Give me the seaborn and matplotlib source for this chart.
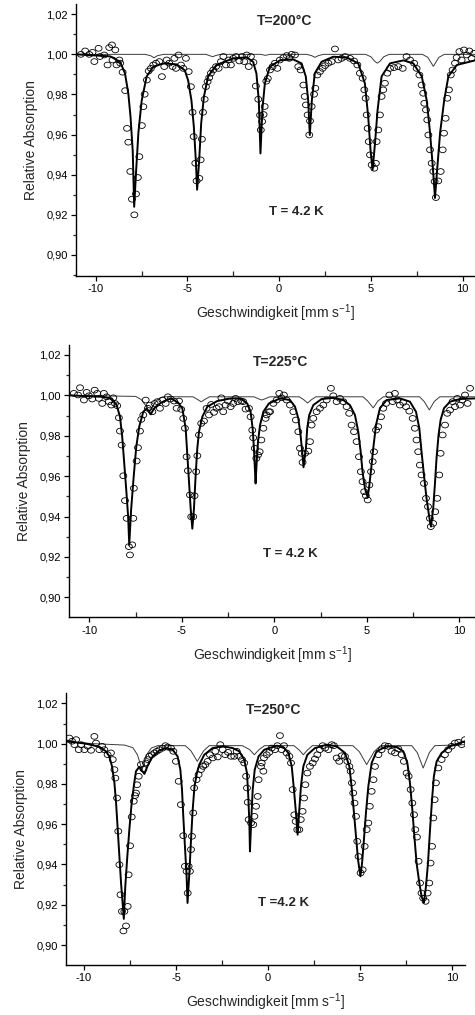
import numpy as np
import pandas as pd
import matplotlib
matplotlib.use("Agg")
import matplotlib.pyplot as plt
from matplotlib.ticker import FixedLocator, FuncFormatter
from matplotlib.markers import MarkerStyle
from matplotlib.transforms import Affine2D
import seaborn as sns

# ---------------- data: panel 1 (T=200°C) ----------------
p1_vel = [-10.80, -10.57, -10.35, -10.17, -10.07, -9.84, -9.77, -9.53, -9.35, -9.26, -9.11, -9.08, -8.93, -8.86,
          -8.71, -8.66, -8.53, -8.39, -8.29, -8.22, -8.11, -8.02, -7.89, -7.80, -7.70, -7.62, -7.48, -7.40, -7.33,
          -7.21, -7.11, -6.99, -6.86, -6.71, -6.53, -6.39, -6.26, -6.13, -5.99, -5.81, -5.71, -5.62, -5.48, -5.35,
          -5.22, -5.08, -4.93, -4.81, -4.72, -4.66, -4.57, -4.50, -4.35, -4.28, -4.21, -4.15, -4.06, -3.99, -3.90,
          -3.81, -3.72, -3.59, -3.44, -3.30, -3.17, -3.04, -2.90, -2.75, -2.63, -2.50, -2.35, -2.17, -2.03, -1.90,
          -1.77, -1.66, -1.54, -1.40, -1.27, -1.14, -1.04, -1.00, -0.93, -0.85, -0.79, -0.70, -0.62, -0.50, -0.36,
          -0.23, -0.10, 0.04, 0.23, 0.41, 0.55, 0.68, 0.86, 1.04, 1.17, 1.32, 1.39, 1.46, 1.55, 1.64, 1.68, 1.77,
          1.90, 1.97, 2.08, 2.22, 2.37, 2.50, 2.68, 2.86, 3.04, 3.22, 3.40, 3.59, 3.86, 4.08, 4.26, 4.40, 4.55,
          4.64, 4.71, 4.77, 4.82, 4.88, 4.95, 5.04, 5.18, 5.27, 5.31, 5.40, 5.49, 5.58, 5.67, 5.76, 5.89, 6.04,
          6.26, 6.49, 6.73, 6.94, 7.13, 7.35, 7.49, 7.64, 7.76, 7.85, 7.91, 8.00, 8.07, 8.13, 8.22, 8.31, 8.40,
          8.47, 8.54, 8.67, 8.80, 8.91, 8.98, 9.07, 9.16, 9.25, 9.35, 9.45, 9.58, 9.67, 9.82, 9.94, 10.07, 10.22,
          10.36, 10.49, 10.62]
p1_abs = [1.0000, 1.0017, 1.0000, 1.0010, 0.9964, 1.0030, 0.9989, 0.9997, 0.9947, 1.0034, 1.0047, 0.9972, 1.0022,
          0.9947, 0.9972, 0.9956, 0.9911, 0.9819, 0.9631, 0.9562, 0.9416, 0.9278, 0.9200, 0.9304, 0.9386, 0.9490,
          0.9645, 0.9739, 0.9801, 0.9872, 0.9917, 0.9930, 0.9947, 0.9956, 0.9964, 0.9889, 0.9939, 0.9972, 0.9956,
          0.9939, 0.9980, 0.9930, 0.9997, 0.9947, 0.9930, 0.9980, 0.9914, 0.9839, 0.9711, 0.9590, 0.9457, 0.9369,
          0.9382, 0.9474, 0.9577, 0.9711, 0.9776, 0.9839, 0.9864, 0.9884, 0.9906, 0.9922, 0.9939, 0.9930, 0.9964,
          0.9989, 0.9947, 0.9972, 0.9947, 0.9980, 0.9989, 0.9967, 0.9989, 0.9964, 0.9997, 0.9939, 0.9989, 0.9960,
          0.9842, 0.9776, 0.9697, 0.9623, 0.9665, 0.9700, 0.9740, 0.9866, 0.9880, 0.9922, 0.9939, 0.9956, 0.9930,
          0.9972, 0.9984, 0.9994, 0.9980, 1.0000, 0.9997, 0.9939, 0.9922, 0.9847, 0.9790, 0.9748, 0.9698, 0.9598,
          0.9668, 0.9740, 0.9801, 0.9831, 0.9897, 0.9914, 0.9930, 0.9944, 0.9956, 0.9964, 1.0027, 0.9972, 0.9980,
          0.9989, 0.9980, 0.9967, 0.9947, 0.9906, 0.9881, 0.9823, 0.9781, 0.9698, 0.9631, 0.9565, 0.9499, 0.9449,
          0.9432, 0.9457, 0.9565, 0.9623, 0.9698, 0.9790, 0.9823, 0.9856, 0.9906, 0.9930, 0.9934, 0.9939, 0.9930,
          0.9989, 0.9972, 0.9956, 0.9930, 0.9897, 0.9847, 0.9806, 0.9756, 0.9723, 0.9673, 0.9598, 0.9524, 0.9457,
          0.9416, 0.9366, 0.9286, 0.9369, 0.9416, 0.9524, 0.9607, 0.9681, 0.9781, 0.9823, 0.9897, 0.9922, 0.9956,
          0.9984, 1.0014, 0.9972, 1.0022, 0.9997, 1.0017, 0.9980, 1.0005]
p1_fit_vel = [-11.07, -9.2, -8.67, -8.4, -8.22, -8.1, -7.98, -7.9, -7.8, -7.67, -7.49, -7.22, -6.86, -6.31, -5.58,
              -5.14, -4.96, -4.78, -4.65, -4.54, -4.47, -4.36, -4.25, -4.10, -3.87, -3.42, -2.51, -1.78, -1.42,
              -1.24, -1.11, -1.02, -0.91, -0.78, -0.51, 0.04, 0.76, 1.22, 1.45, 1.58, 1.67, 1.78, 1.94, 2.31, 2.94,
              3.67, 4.31, 4.67, 4.85, 4.98, 5.09, 5.22, 5.36, 5.58, 6.04, 6.77, 7.31, 7.77, 8.04, 8.22, 8.37, 8.49,
              8.62, 8.77, 8.99, 9.22, 9.68, 10.67]
p1_fit_abs = [1.0000, 0.9990, 0.9963, 0.9905, 0.9805, 0.9690, 0.9520, 0.9240, 0.9410, 0.9610, 0.9770, 0.9890,
              0.9938, 0.9955, 0.9950, 0.9920, 0.9870, 0.9770, 0.9640, 0.9470, 0.9325, 0.9470, 0.9655, 0.9790,
              0.9890, 0.9947, 0.9980, 0.9985, 0.9963, 0.9905, 0.9770, 0.9506, 0.9730, 0.9855, 0.9938, 0.9970,
              0.9975, 0.9955, 0.9890, 0.9770, 0.9598, 0.9770, 0.9905, 0.9963, 0.9988, 0.9985, 0.9955, 0.9855,
              0.9690, 0.9520, 0.9424, 0.9555, 0.9720, 0.9890, 0.9955, 0.9970, 0.9955, 0.9890, 0.9770, 0.9610,
              0.9440, 0.9284, 0.9440, 0.9610, 0.9770, 0.9890, 0.9947, 0.9970]
p1_sub_vel = [-11.07, -7.3, -7.0, -6.82, -6.64, -6.3, -4.0, -3.8, -3.63, -3.46, -3.2, -1.0, -0.75, -0.5, 1.5, 1.78,
              1.95, 2.12, 2.4, 4.7, 5.0, 5.2, 5.35, 5.5, 5.7, 6.0, 7.8, 8.1, 8.28, 8.4, 8.52, 8.7, 9.0, 10.67]
p1_sub_abs = [1.0000, 1.0000, 0.9993, 0.9983, 0.9993, 1.0000, 1.0000, 0.9994, 0.9988, 0.9994, 1.0000, 1.0000,
              0.9995, 1.0000, 1.0000, 0.9993, 0.9985, 0.9993, 1.0000, 1.0000, 0.9988, 0.9966, 0.9956, 0.9966,
              0.9988, 1.0000, 1.0000, 0.9985, 0.9958, 0.9940, 0.9958, 0.9985, 1.0000, 1.0000]

# ---------------- data: panel 2 (T=225°C) ----------------
p2_vel = [-10.83, -10.61, -10.50, -10.29, -10.14, -10.02, -9.84, -9.71, -9.57, -9.48, -9.30, -9.21, -9.06, -8.94,
          -8.81, -8.70, -8.61, -8.49, -8.40, -8.34, -8.25, -8.16, -8.07, -7.98, -7.86, -7.80, -7.68, -7.62, -7.59,
          -7.44, -7.37, -7.26, -7.19, -7.08, -6.95, -6.83, -6.72, -6.59, -6.47, -6.32, -6.18, -6.05, -5.87, -5.75,
          -5.60, -5.42, -5.28, -5.15, -5.03, -4.92, -4.83, -4.74, -4.67, -4.56, -4.49, -4.38, -4.31, -4.22, -4.16,
          -4.07, -3.95, -3.80, -3.66, -3.53, -3.41, -3.26, -3.12, -2.99, -2.86, -2.76, -2.63, -2.50, -2.36, -2.22,
          -2.09, -1.96, -1.78, -1.68, -1.55, -1.37, -1.28, -1.19, -1.14, -1.05, -0.97, -0.88, -0.79, -0.70, -0.59,
          -0.47, -0.41, -0.29, -0.23, -0.05, 0.13, 0.27, 0.40, 0.52, 0.67, 0.85, 1.03, 1.17, 1.30, 1.39, 1.48,
          1.53, 1.66, 1.84, 1.93, 2.02, 2.11, 2.29, 2.47, 2.65, 2.83, 3.06, 3.19, 3.37, 3.55, 3.73, 3.91, 4.05,
          4.18, 4.31, 4.45, 4.58, 4.68, 4.77, 4.86, 4.95, 5.05, 5.14, 5.23, 5.32, 5.39, 5.50, 5.62, 5.77, 5.89,
          6.04, 6.22, 6.40, 6.52, 6.65, 6.79, 6.97, 7.12, 7.30, 7.48, 7.60, 7.69, 7.78, 7.87, 7.96, 8.09, 8.20,
          8.31, 8.41, 8.46, 8.59, 8.70, 8.81, 8.92, 8.99, 9.10, 9.23, 9.35, 9.50, 9.64, 9.77, 9.89, 10.04, 10.16,
          10.31, 10.45, 10.58]
p2_abs = [1.0010, 1.0002, 1.0038, 0.9977, 1.0015, 0.9998, 0.9982, 1.0026, 1.0010, 0.9985, 0.9960, 1.0010, 0.9993,
          0.9969, 0.9952, 0.9988, 0.9960, 0.9949, 0.9889, 0.9823, 0.9754, 0.9602, 0.9479, 0.9391, 0.9251, 0.9210,
          0.9260, 0.9391, 0.9540, 0.9675, 0.9741, 0.9823, 0.9881, 0.9903, 0.9977, 0.9936, 0.9952, 0.9919, 0.9960,
          0.9969, 0.9936, 0.9977, 0.9960, 0.9993, 0.9982, 0.9972, 0.9936, 0.9972, 0.9931, 0.9886, 0.9837, 0.9696,
          0.9627, 0.9507, 0.9399, 0.9399, 0.9503, 0.9622, 0.9701, 0.9804, 0.9861, 0.9873, 0.9936, 0.9903, 0.9955,
          0.9916, 0.9936, 0.9944, 0.9988, 0.9919, 0.9952, 0.9972, 0.9944, 0.9960, 0.9985, 0.9969, 0.9972, 0.9969,
          0.9932, 0.9936, 0.9894, 0.9828, 0.9790, 0.9738, 0.9688, 0.9705, 0.9721, 0.9779, 0.9837, 0.9886, 0.9903,
          0.9919, 0.9919, 0.9960, 0.9977, 1.0010, 0.9988, 1.0002, 0.9977, 0.9952, 0.9919, 0.9878, 0.9820, 0.9738,
          0.9713, 0.9668, 0.9713, 0.9724, 0.9771, 0.9853, 0.9886, 0.9919, 0.9936, 0.9952, 0.9977, 1.0035, 0.9998,
          0.9969, 0.9985, 0.9969, 0.9944, 0.9911, 0.9853, 0.9820, 0.9771, 0.9696, 0.9622, 0.9573, 0.9523, 0.9503,
          0.9482, 0.9556, 0.9622, 0.9672, 0.9721, 0.9828, 0.9845, 0.9894, 0.9936, 0.9960, 1.0002, 0.9969, 1.0010,
          0.9977, 0.9952, 0.9965, 0.9944, 0.9922, 0.9886, 0.9837, 0.9779, 0.9721, 0.9655, 0.9606, 0.9564, 0.9490,
          0.9449, 0.9391, 0.9350, 0.9366, 0.9424, 0.9490, 0.9606, 0.9713, 0.9804, 0.9853, 0.9911, 0.9927, 0.9969,
          0.9944, 0.9985, 0.9952, 0.9977, 1.0002, 0.9960, 1.0035]
p2_fit_vel = [-11.08, -9.33, -8.79, -8.52, -8.34, -8.22, -8.11, -8.00, -7.90, -7.84, -7.74, -7.60, -7.46, -7.30,
              -7.08, -6.90, -6.68, -6.50, -6.1, -5.6, -5.2, -4.97, -4.79, -4.70, -4.61, -4.52, -4.43, -4.34, -4.25,
              -4.16, -4.07, -3.89, -3.62, -3.08, -2.36, -1.82, -1.46, -1.28, -1.17, -1.10, -1.05, -1.01, -0.95,
              -0.88, -0.77, -0.59, -0.29, 0.31, 0.85, 1.12, 1.30, 1.42, 1.51, 1.58, 1.71, 1.78, 1.89, 2.11, 2.56,
              3.19, 3.73, 4.09, 4.36, 4.54, 4.67, 4.77, 4.90, 5.05, 5.14, 5.24, 5.35, 5.50, 5.71, 6.07, 6.79, 7.33,
              7.66, 7.84, 7.96, 8.09, 8.23, 8.36, 8.47, 8.59, 8.68, 8.77, 8.88, 8.99, 9.17, 9.50, 10.04, 10.85]
p2_fit_abs = [1.0000, 0.9993, 0.9985, 0.9952, 0.9894, 0.9795, 0.9663, 0.9530, 0.9400, 0.9260, 0.9432, 0.9597,
              0.9746, 0.9845, 0.9919, 0.9935, 0.9906, 0.9935, 0.9965, 0.9985, 0.9965, 0.9936, 0.9837, 0.9705,
              0.9573, 0.9440, 0.9340, 0.9440, 0.9606, 0.9738, 0.9820, 0.9894, 0.9944, 0.9972, 0.9985, 0.9985,
              0.9960, 0.9919, 0.9837, 0.9738, 0.9639, 0.9564, 0.9672, 0.9771, 0.9853, 0.9919, 0.9960, 0.9985,
              0.9977, 0.9944, 0.9886, 0.9804, 0.9721, 0.9644, 0.9738, 0.9837, 0.9903, 0.9952, 0.9982, 0.9988,
              0.9977, 0.9952, 0.9903, 0.9820, 0.9721, 0.9622, 0.9540, 0.9495, 0.9556, 0.9639, 0.9738, 0.9854,
              0.9936, 0.9977, 0.9985, 0.9969, 0.9919, 0.9837, 0.9721, 0.9606, 0.9490, 0.9408, 0.9350, 0.9440,
              0.9556, 0.9688, 0.9804, 0.9878, 0.9936, 0.9969, 0.9982, 0.9985]
p2_sub_vel = [-11.08, -7.5, -7.2, -6.95, -6.75, -6.55, -6.3, -6.0, -4.4, -4.15, -3.95, -3.75, -3.5, -1.1, -0.85,
              -0.68, -0.5, -0.25, 1.35, 1.6, 1.8, 2.0, 2.25, 4.8, 5.05, 5.35, 5.6, 5.9, 7.85, 8.1, 8.38, 8.65, 8.95,
              10.85]
p2_sub_abs = [1.0000, 0.9995, 0.9980, 0.9950, 0.9915, 0.9950, 0.9980, 0.9993, 0.9993, 0.9980, 0.9968, 0.9980,
              0.9993, 0.9993, 0.9983, 0.9977, 0.9983, 0.9993, 0.9993, 0.9978, 0.9962, 0.9978, 0.9993, 0.9993,
              0.9972, 0.9938, 0.9972, 0.9993, 0.9993, 0.9970, 0.9928, 0.9970, 0.9993, 0.9993]

# ---------------- data: panel 3 (T=250°C) ----------------
p3_vel = [-10.80, -10.65, -10.52, -10.43, -10.29, -10.16, -9.98, -9.80, -9.62, -9.44, -9.35, -9.17, -9.02, -8.90,
          -8.72, -8.54, -8.44, -8.35, -8.30, -8.21, -8.14, -8.08, -8.02, -7.94, -7.86, -7.81, -7.72, -7.63, -7.58,
          -7.50, -7.41, -7.30, -7.23, -7.18, -7.12, -7.03, -6.91, -6.78, -6.64, -6.55, -6.46, -6.31, -6.18, -6.05,
          -5.91, -5.73, -5.58, -5.46, -5.28, -5.15, -5.01, -4.86, -4.74, -4.61, -4.52, -4.43, -4.37, -4.32, -4.25,
          -4.19, -4.14, -4.07, -4.02, -3.89, -3.78, -3.65, -3.53, -3.41, -3.29, -3.16, -3.01, -2.87, -2.74, -2.60,
          -2.47, -2.33, -2.18, -2.02, -1.84, -1.71, -1.57, -1.42, -1.30, -1.20, -1.15, -1.11, -1.06, -0.93, -0.81,
          -0.75, -0.66, -0.57, -0.52, -0.39, -0.35, -0.26, -0.23, -0.08, 0.06, 0.19, 0.37, 0.50, 0.64, 0.73, 0.86,
          1.00, 1.15, 1.24, 1.33, 1.42, 1.49, 1.58, 1.69, 1.77, 1.87, 1.95, 2.02, 2.13, 2.27, 2.42, 2.54, 2.67,
          2.81, 2.96, 3.09, 3.27, 3.45, 3.57, 3.72, 3.86, 3.99, 4.17, 4.30, 4.41, 4.48, 4.55, 4.62, 4.69, 4.77,
          4.84, 4.91, 5.02, 5.13, 5.24, 5.35, 5.44, 5.52, 5.62, 5.72, 5.80, 5.99, 6.16, 6.34, 6.52, 6.70, 6.89,
          7.07, 7.25, 7.37, 7.52, 7.63, 7.74, 7.83, 7.92, 7.99, 8.08, 8.17, 8.25, 8.33, 8.42, 8.55, 8.66, 8.75,
          8.82, 8.90, 8.97, 9.04, 9.11, 9.24, 9.42, 9.60, 9.78, 9.96, 10.14, 10.33, 10.51, 10.69]
p3_abs = [1.0028, 1.0012, 0.9995, 1.0020, 0.9970, 0.9995, 0.9970, 0.9987, 0.9967, 1.0036, 1.0003, 0.9970, 0.9987,
          0.9970, 0.9945, 0.9954, 0.9921, 0.9871, 0.9829, 0.9730, 0.9565, 0.9399, 0.9250, 0.9167, 0.9070, 0.9167,
          0.9095, 0.9192, 0.9349, 0.9493, 0.9636, 0.9714, 0.9742, 0.9755, 0.9796, 0.9838, 0.9896, 0.9874, 0.9904,
          0.9921, 0.9937, 0.9945, 0.9954, 0.9962, 0.9970, 0.9978, 0.9990, 0.9983, 0.9978, 0.9962, 0.9912, 0.9813,
          0.9697, 0.9543, 0.9391, 0.9366, 0.9258, 0.9391, 0.9366, 0.9474, 0.9540, 0.9656, 0.9780, 0.9821, 0.9846,
          0.9871, 0.9887, 0.9896, 0.9912, 0.9945, 0.9929, 0.9962, 0.9934, 0.9995, 0.9970, 0.9945, 0.9957, 0.9937,
          0.9937, 0.9962, 0.9937, 0.9921, 0.9904, 0.9838, 0.9780, 0.9709, 0.9623, 0.9606, 0.9598, 0.9639, 0.9689,
          0.9738, 0.9821, 0.9887, 0.9904, 0.9863, 0.9929, 0.9945, 0.9957, 0.9978, 0.9970, 0.9990, 1.0040, 0.9970,
          0.9990, 0.9954, 0.9937, 0.9904, 0.9772, 0.9647, 0.9614, 0.9573, 0.9573, 0.9623, 0.9664, 0.9730, 0.9796,
          0.9854, 0.9887, 0.9904, 0.9924, 0.9945, 0.9970, 0.9990, 0.9978, 0.9970, 0.9995, 0.9990, 0.9929, 0.9912,
          0.9940, 0.9937, 0.9912, 0.9887, 0.9863, 0.9805, 0.9755, 0.9705, 0.9639, 0.9515, 0.9440, 0.9358, 0.9374,
          0.9490, 0.9573, 0.9606, 0.9689, 0.9763, 0.9821, 0.9887, 0.9945, 0.9970, 0.9990, 0.9987, 0.9962, 0.9954,
          0.9974, 0.9945, 0.9912, 0.9854, 0.9838, 0.9772, 0.9705, 0.9647, 0.9573, 0.9536, 0.9416, 0.9308, 0.9258,
          0.9233, 0.9217, 0.9258, 0.9308, 0.9407, 0.9490, 0.9631, 0.9722, 0.9805, 0.9879, 0.9921, 0.9945, 0.9970,
          0.9987, 1.0003, 1.0007, 0.9995, 1.0020]
p3_fit_vel = [-10.98, -9.9, -9.2, -8.81, -8.63, -8.48, -8.35, -8.26, -8.17, -8.08, -7.99, -7.84, -7.76, -7.65,
              -7.54, -7.43, -7.30, -7.18, -7.00, -6.85, -6.72, -6.55, -6.27, -5.91, -5.55, -5.19, -4.92, -4.77,
              -4.68, -4.61, -4.52, -4.43, -4.38, -4.28, -4.19, -4.10, -4.00, -3.87, -3.74, -3.47, -3.02, -2.47,
              -1.93, -1.57, -1.30, -1.15, -1.08, -1.02, -0.99, -0.91, -0.84, -0.73, -0.52, -0.21, 0.46, 0.82, 1.10,
              1.28, 1.40, 1.51, 1.60, 1.69, 1.78, 1.91, 2.13, 2.54, 3.18, 3.72, 4.17, 4.41, 4.53, 4.66, 4.77, 4.88,
              5.01, 5.10, 5.20, 5.31, 5.44, 5.62, 5.89, 6.43, 6.98, 7.34, 7.56, 7.70, 7.83, 7.94, 8.06, 8.21, 8.33,
              8.46, 8.57, 8.68, 8.79, 8.90, 9.00, 9.15, 9.42, 9.87, 10.42, 10.69]
p3_fit_abs = [1.0012, 1.0000, 0.9985, 0.9962, 0.9937, 0.9887, 0.9805, 0.9705, 0.9573, 0.9440, 0.9308, 0.9130,
              0.9291, 0.9440, 0.9573, 0.9689, 0.9788, 0.9863, 0.9885, 0.9865, 0.9850, 0.9890, 0.9937, 0.9967,
              0.9978, 0.9970, 0.9937, 0.9871, 0.9772, 0.9639, 0.9490, 0.9341, 0.9209, 0.9358, 0.9523, 0.9672,
              0.9788, 0.9854, 0.9896, 0.9945, 0.9978, 0.9987, 0.9978, 0.9962, 0.9920, 0.9854, 0.9738, 0.9606,
              0.9465, 0.9639, 0.9772, 0.9871, 0.9937, 0.9970, 0.9990, 0.9983, 0.9954, 0.9887, 0.9772, 0.9656,
              0.9548, 0.9672, 0.9788, 0.9887, 0.9945, 0.9978, 0.9995, 0.9987, 0.9954, 0.9887, 0.9788, 0.9656,
              0.9540, 0.9424, 0.9341, 0.9407, 0.9523, 0.9656, 0.9788, 0.9904, 0.9962, 0.9987, 0.9983, 0.9962,
              0.9904, 0.9805, 0.9672, 0.9540, 0.9407, 0.9308, 0.9242, 0.9210, 0.9291, 0.9407, 0.9573, 0.9722,
              0.9838, 0.9912, 0.9954, 0.9987, 1.0003, 1.0012]
p3_sub_vel = [-10.98, -9.5, -7.8, -7.35, -7.1, -6.85, -6.6, -6.35, -6.0, -4.5, -4.2, -4.0, -3.85, -3.7, -3.5, -3.2,
              -1.4, -1.0, -0.75, -0.5, -0.2, 1.4, 1.7, 1.91, 2.12, 2.4, 4.6, 4.95, 5.35, 5.75, 6.1, 7.8, 8.1, 8.42,
              8.75, 9.05, 10.69]
p3_sub_abs = [1.0010, 1.0000, 0.9993, 0.9980, 0.9945, 0.9870, 0.9945, 0.9978, 0.9990, 0.9990, 0.9965, 0.9935,
              0.9912, 0.9935, 0.9965, 0.9990, 0.9990, 0.9970, 0.9945, 0.9970, 0.9990, 0.9990, 0.9967, 0.9945,
              0.9967, 0.9990, 0.9990, 0.9960, 0.9896, 0.9960, 0.9990, 0.9990, 0.9955, 0.9879, 0.9955, 0.9990,
              0.9995]

y_ticks = [0.90, 0.92, 0.94, 0.96, 0.98, 1.00, 1.02]
y_minor = [0.89, 0.91, 0.93, 0.95, 0.97, 0.99, 1.01]
x_ticks = [-10, -5, 0, 5, 10]
x_minor = [-7.5, -2.5, 2.5, 7.5]
x_tick_labels = ["-10", "-5", "0", "5", "10"]
sample_titles = ["T=200°C", "T=225°C", "T=250°C"]
meas_labels = ["T = 4.2 K", "T = 4.2 K", "T =4.2 K"]

sns.set_style("ticks")
plt.rcParams["font.family"] = ["Liberation Sans", "DejaVu Sans"]
plt.rcParams["mathtext.fontset"] = "custom"
plt.rcParams["mathtext.rm"] = "Liberation Sans"
plt.rcParams["mathtext.it"] = "Liberation Sans:italic"
plt.rcParams["mathtext.bf"] = "Liberation Sans:bold"

fig = plt.figure(figsize=(4.75, 10.15), dpi=100)

panels = [
    dict(rect=[76/475, 1-276/1015, (475-76)/475, 271.8/1015], xlim=(-11.07, 10.67), ylim=(0.8895, 1.025),
         data=(p1_vel, p1_abs), fit=(p1_fit_vel, p1_fit_abs), sub=(p1_sub_vel, p1_sub_abs),
         title_pos=(0.32, 1.0168), meas_pos=(0.91, 0.9212)),
    dict(rect=[69.3/475, 1-617.3/1015, (475-69.3)/475, 272.4/1015], xlim=(-11.08, 10.85), ylim=(0.8901, 1.025),
         data=(p2_vel, p2_abs), fit=(p2_fit_vel, p2_fit_abs), sub=(p2_sub_vel, p2_sub_abs),
         title_pos=(0.31, 1.0163), meas_pos=(0.85, 0.9215)),
    dict(rect=[66/475, 1-965/1015, (465-66)/475, 271.7/1015], xlim=(-10.98, 10.69), ylim=(0.8901, 1.025),
         data=(p3_vel, p3_abs), fit=(p3_fit_vel, p3_fit_abs), sub=(p3_sub_vel, p3_sub_abs),
         title_pos=(0.28, 1.0166), meas_pos=(0.82, 0.9209)),
]

marker = MarkerStyle("o", transform=Affine2D().scale(1.2, 1.0))
comma = FuncFormatter(lambda v, p: f"{v:.2f}".replace(".", ","))

for i, pnl in enumerate(panels):
    ax = fig.add_axes(pnl["rect"])
    df = pd.DataFrame({"v": pnl["data"][0], "a": pnl["data"][1]})
    fit = pd.DataFrame({"v": pnl["fit"][0], "a": pnl["fit"][1]})
    sub = pd.DataFrame({"v": pnl["sub"][0], "a": pnl["sub"][1]})
    sns.lineplot(data=sub, x="v", y="a", ax=ax, color="#3a3a3a", lw=0.7, estimator=None, sort=False, zorder=2)
    sns.scatterplot(data=df, x="v", y="a", ax=ax, marker=marker, s=17, facecolor="none",
                    edgecolor="black", linewidth=0.6, zorder=3)
    sns.lineplot(data=fit, x="v", y="a", ax=ax, color="black", lw=1.4, estimator=None, sort=False, zorder=4)
    ax.set_xlim(*pnl["xlim"])
    ax.set_ylim(*pnl["ylim"])
    ax.xaxis.set_major_locator(FixedLocator(x_ticks))
    ax.set_xticklabels(x_tick_labels)
    ax.xaxis.set_minor_locator(FixedLocator(x_minor))
    ax.yaxis.set_major_locator(FixedLocator(y_ticks))
    ax.yaxis.set_minor_locator(FixedLocator(y_minor))
    ax.yaxis.set_major_formatter(comma)
    for s in ["top", "right"]:
        ax.spines[s].set_visible(False)
    for s in ["left", "bottom"]:
        ax.spines[s].set_linewidth(1.0)
        ax.spines[s].set_color("black")
    ax.tick_params(axis="both", which="major", direction="out", length=3.5, width=0.9, labelsize=8,
                   colors="black", pad=2.5)
    ax.tick_params(axis="x", which="minor", direction="in", length=3.5, width=0.9)
    ax.tick_params(axis="y", which="minor", direction="out", length=2.2, width=0.9)
    ax.set_xlabel("Geschwindigkeit [mm s$^{-1}$]", fontsize=10, labelpad=6)
    ax.set_ylabel("Relative Absorption", fontsize=10, labelpad=6)
    ax.text(*pnl["title_pos"], sample_titles[i], ha="center", va="center", fontsize=10, fontweight="bold")
    ax.text(*pnl["meas_pos"], meas_labels[i], ha="center", va="center", fontsize=9.5, fontweight="bold")
    ax.set_facecolor("white")
    ax.patch.set_alpha(0)

fig.savefig("out.png", dpi=100, facecolor="white")
